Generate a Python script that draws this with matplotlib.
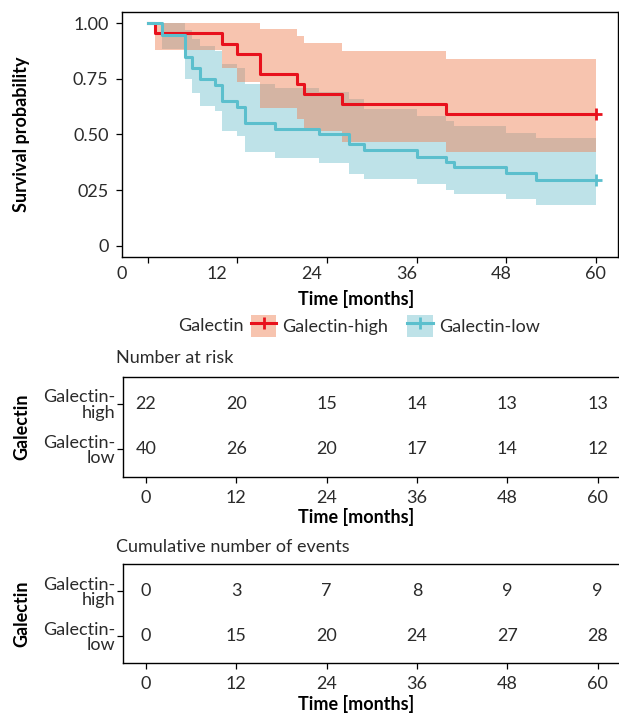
import numpy as np
import matplotlib
matplotlib.use('Agg')
import matplotlib.pyplot as plt
from matplotlib.patches import Patch
from matplotlib.lines import Line2D

plt.rcParams['font.family'] = ['Lato', 'DejaVu Sans']

# Kaplan-Meier steps (time in months)
high_t = [0, 1, 10, 12, 15, 20, 21, 26, 40, 60]
high_s = [1.0, 0.955, 0.909, 0.864, 0.773, 0.727, 0.682, 0.636, 0.591, 0.591]
high_up = [1.0, 1.0, 1.0, 1.0, 0.973, 0.944, 0.914, 0.876, 0.839, 0.839]
high_lo = [1.0, 0.879, 0.80, 0.736, 0.62, 0.57, 0.517, 0.467, 0.419, 0.419]

low_t = [0, 2, 5, 6, 7, 9, 10, 12, 13, 17, 23, 27, 29, 36, 40, 41, 48, 52, 60]
low_s = [1.0, 0.95, 0.85, 0.80, 0.75, 0.725, 0.65, 0.625, 0.55, 0.525, 0.50,
         0.455, 0.43, 0.40, 0.377, 0.352, 0.327, 0.297, 0.297]
low_up = [1.0, 1.0, 0.97, 0.932, 0.90, 0.875, 0.816, 0.80, 0.728, 0.709, 0.69,
          0.66, 0.615, 0.585, 0.56, 0.537, 0.506, 0.485, 0.485]
low_lo = [1.0, 0.887, 0.751, 0.686, 0.63, 0.605, 0.517, 0.495, 0.419, 0.394, 0.371,
          0.324, 0.299, 0.276, 0.25, 0.232, 0.208, 0.184, 0.184]

times = [0, 12, 24, 36, 48, 60]
groups = ['Galectin-\nhigh', 'Galectin-\nlow']
risk_high = [22, 20, 15, 14, 13, 13]
risk_low = [40, 26, 20, 17, 14, 12]
events_high = [0, 3, 7, 8, 9, 9]
events_low = [0, 15, 20, 24, 27, 28]
y_ticks = [0, 0.25, 0.5, 0.75, 1.0]
y_labels = ['0', '025', '0.50', '0.75', '1.00']

red = '#E8111C'
blue = '#5BBFCD'
red_fill = '#EF7E4F'
blue_fill = '#BEE2E8'
txt = '#2b2b2b'
fs = 13

W, H = 619, 713
fig = plt.figure(figsize=(W / 100, H / 100), dpi=100)


def box(l, t, r, b):
    return [l / W, 1 - b / H, (r - l) / W, (b - t) / H]


# main survival plot
ax = fig.add_axes(box(121.7, 12.3, 618.3, 256.7))
ax.fill_between(low_t, low_lo, low_up, step='post', color=blue_fill, lw=0)
ax.fill_between(high_t, high_lo, high_up, step='post', color=red_fill, alpha=0.45, lw=0)
ax.step(high_t, high_s, where='post', color=red, lw=2.2)
ax.step(low_t, low_s, where='post', color=blue, lw=2.2)
ax.plot(high_t[-1], high_s[-1], marker='+', color=red, ms=9, mew=2)
ax.plot(low_t[-1], low_s[-1], marker='+', color=blue, ms=9, mew=2)
ax.set_xlim(-3, 63)
ax.set_ylim(-0.05, 1.05)
ax.set_yticks(y_ticks, y_labels)
# tick labels sit a bit left of the marks in the reference
ax.xaxis.remove_overlapping_locs = False
shift = [60 - (60 - t) * 1.0576 for t in times]
ax.set_xticks(times, [''] * len(times))
ax.set_xticks(shift, [str(t) for t in times], minor=True)
ax.tick_params(axis='x', which='minor', length=0, pad=6.5, labelsize=fs, labelcolor=txt)
ax.tick_params(axis='x', which='major', length=4.5, width=0.9)
ax.tick_params(axis='y', length=4.5, width=0.9, pad=5, labelsize=fs, labelcolor=txt)
for s in ax.spines.values():
    s.set_linewidth(1.0)

fig.text(22 / W, 1 - 134.5 / H, 'Survival probability', rotation=90, ha='center',
         va='center', fontsize=fs, fontweight='bold')
fig.text(356.5 / W, 1 - 299 / H, 'Time [months]', ha='center', va='center',
         fontsize=fs, fontweight='bold')

# legend
fig.text(178 / W, 1 - 326 / H, 'Galectin', ha='left', va='center', fontsize=fs, color=txt)
handles = [
    (Patch(facecolor=red_fill, alpha=0.45, lw=0), Line2D([], [], color=red, lw=2.2, marker='+', ms=9, mew=2)),
    (Patch(facecolor=blue_fill, lw=0), Line2D([], [], color=blue, lw=2.2, marker='+', ms=9, mew=2)),
]
fig.legend(handles, ['Galectin-high', 'Galectin-low'], loc='center left',
           bbox_to_anchor=(251 / W, 1 - 326 / H), ncol=2, frameon=False,
           fontsize=fs, handlelength=1.4, handleheight=1.5, handletextpad=0.35,
           columnspacing=1.05, borderpad=0, borderaxespad=0, labelcolor=txt)


def table(top, bottom, title, vals_high, vals_low, title_y, xlabel_y):
    t = fig.add_axes(box(123.3, top, 620.3, bottom))
    t.set_xlim(-3, 63)
    t.set_ylim(0.4, 2.6)
    for x, a, b in zip(times, vals_high, vals_low):
        t.text(x, 2, str(a), ha='center', va='center', fontsize=fs, color=txt)
        t.text(x, 1, str(b), ha='center', va='center', fontsize=fs, color=txt)
    t.set_xticks(times, [str(v) for v in times])
    t.set_yticks([2, 1], groups)
    for lab in t.get_yticklabels():
        lab.set_linespacing(0.95)
    t.tick_params(axis='x', length=4.5, width=0.9, pad=5, labelsize=fs, labelcolor=txt)
    t.tick_params(axis='y', length=4.5, width=0.9, pad=1.5, labelsize=fs, labelcolor=txt)
    for s in t.spines.values():
        s.set_linewidth(1.0)
    fig.text(116 / W, 1 - title_y / H, title, ha='left', va='center', fontsize=fs, color=txt)
    fig.text(22 / W, 1 - (top + bottom) / 2 / H, 'Galectin', rotation=90, ha='center',
             va='center', fontsize=fs, fontweight='bold')
    fig.text(356.5 / W, 1 - xlabel_y / H, 'Time [months]', ha='center', va='center',
             fontsize=fs, fontweight='bold')


table(376.7, 476.7, 'Number at risk', risk_high, risk_low, 358, 517)
table(564, 663.3, 'Cumulative number of events', events_high, events_low, 547, 704)

fig.savefig('out.png', dpi=100)
